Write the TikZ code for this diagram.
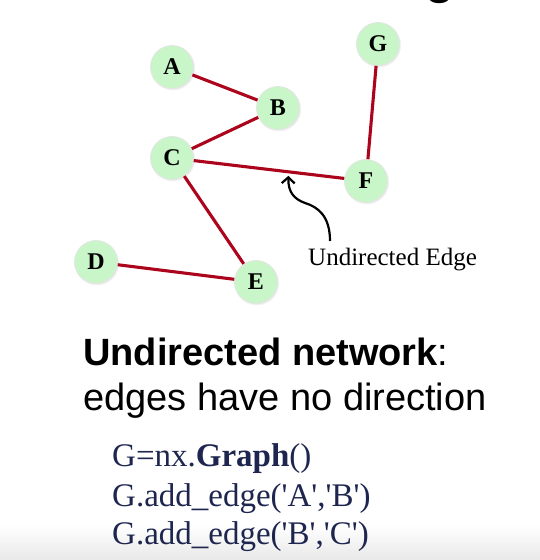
\documentclass[tikz,border=0pt]{standalone}
\usepackage{fontspec}
\setmainfont{Liberation Serif}
\newfontfamily\arialfont{Liberation Sans}
\newfontfamily\codefont{Liberation Serif}[Ligatures=TeXOff]
\usetikzlibrary{arrows.meta,calc,shadows}
\definecolor{edgered}{RGB}{172,4,28}
\definecolor{nodegreen}{RGB}{200,246,200}
\definecolor{codeblue}{RGB}{30,38,80}
\begin{document}
\begin{tikzpicture}[x=1pt,y=-1pt,
  vertex/.style={circle, fill=nodegreen, draw=black!10, line width=0.8pt,
    minimum size=43pt, inner sep=0pt,
    font=\fontsize{24}{24}\selectfont\bfseries,
    circular drop shadow={shadow xshift=0.6pt, shadow yshift=-0.8pt, opacity=0.25, shadow scale=1.06}},
  link/.style={draw=edgered, line width=3.1pt},
  headline/.style={anchor=base west, inner sep=0pt, font=\arialfont\fontsize{38}{40}\selectfont},
  codeline/.style={anchor=base west, inner sep=0pt, text=codeblue, font=\codefont\fontsize{33}{36}\selectfont},
  pointer/.style={draw=black, line width=2.2pt, -{Straight Barb[length=6pt,width=13pt]}}
]
\useasboundingbox (0,0) rectangle (540,560);
\shade[top color=white, bottom color=black!9] (0,525) rectangle (540,560);

% cut-off title fragment
\begin{scope}
  \clip (0,0) rectangle (540,560);
  \node[anchor=base, inner sep=0pt, font=\arialfont\fontsize{48}{48}\selectfont\bfseries] (titlefrag) at (440,-7) {g};
\end{scope}

% vertices
\node[vertex] (A) at (172,67) {A};
\node[vertex] (B) at (278,108) {B};
\node[vertex] (G) at (378,44) {G};
\node[vertex] (C) at (172,158) {C};
\node[vertex] (F) at (366,181) {F};
\node[vertex] (D) at (96,262) {D};
\node[vertex] (E) at (256,282) {E};

% edges
\draw[link] (A) -- (B);
\draw[link] (B) -- (C);
\draw[link] (C) -- (F);
\draw[link] (C) -- (E);
\draw[link] (D) -- (E);
\draw[link] (G) -- (F);

% annotation
\node[anchor=base west, inner sep=0pt, font=\fontsize{25}{25}\selectfont] (lbl) at (308,265) {Undirected Edge};
\coordinate (tail) at (330,241);
\coordinate (tip) at ($($(C)!0.6!(F)$)+(0,4)$);
\draw[pointer] (tail) .. controls (330,216) and (318,207) .. (305,203)
  .. controls (294,199) and (288,192) .. (tip);

% texts
\node[headline] (h1) at (83,365) {\textbf{Undirected network}:};
\node[headline] (h2) at (83,410) {edges have no direction};
\node[codeline] (c1) at (112,466) {G=nx.\textbf{Graph}()};
\node[codeline] (c2) at (112,506) {G.add\_edge('A','B')};
\node[codeline] (c3) at (112,544) {G.add\_edge('B','C')};
\end{tikzpicture}
\end{document}
